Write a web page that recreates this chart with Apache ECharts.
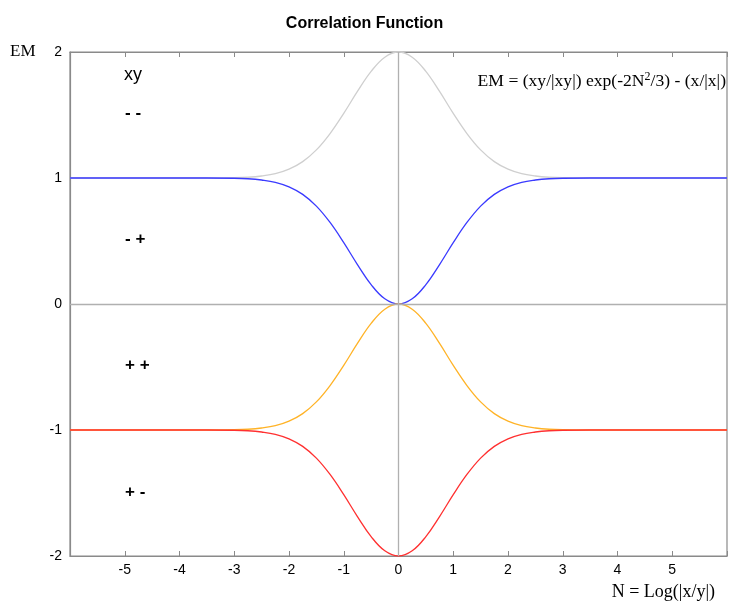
<!DOCTYPE html>
<html>
<head>
<meta charset="utf-8">
<script src="https://cdn.jsdelivr.net/npm/echarts@6/dist/echarts.min.js"></script>
<style>
html,body{margin:0;padding:0;background:#fff;}
#chart{width:729px;height:602px;}
</style>
</head>
<body>
<div id="chart"></div>
<script>
// N values (x axis)
const nValues = [-6,-5,-4,-3.5,-3,-2.75,-2.5,-2.25,-2,-1.75,-1.5,-1.25,-1,-0.75,-0.5,-0.25,0,0.25,0.5,0.75,1,1.25,1.5,1.75,2,2.25,2.5,2.75,3,3.5,4,5,6];
// xy = - -  (gray)
const grayValues = [1,1,1,1,1.002,1.006,1.016,1.034,1.07,1.13,1.223,1.353,1.513,1.687,1.846,1.959,2,1.959,1.846,1.687,1.513,1.353,1.223,1.13,1.07,1.034,1.016,1.006,1.002,1,1,1,1];
// xy = - +  (blue)
const blueValues = [1,1,1,1,0.998,0.994,0.984,0.966,0.93,0.87,0.777,0.647,0.487,0.313,0.154,0.041,0,0.041,0.154,0.313,0.487,0.647,0.777,0.87,0.93,0.966,0.984,0.994,0.998,1,1,1,1];
// xy = + +  (orange)
const orangeValues = [-1,-1,-1,-1,-0.998,-0.994,-0.984,-0.966,-0.93,-0.87,-0.777,-0.647,-0.487,-0.313,-0.154,-0.041,0,-0.041,-0.154,-0.313,-0.487,-0.647,-0.777,-0.87,-0.93,-0.966,-0.984,-0.994,-0.998,-1,-1,-1,-1];
// xy = + -  (red)
const redValues = [-1,-1,-1,-1,-1.002,-1.006,-1.016,-1.034,-1.07,-1.13,-1.223,-1.353,-1.513,-1.687,-1.846,-1.959,-2,-1.959,-1.846,-1.687,-1.513,-1.353,-1.223,-1.13,-1.07,-1.034,-1.016,-1.006,-1.002,-1,-1,-1,-1];
const xTickLabels = ['-5','-4','-3','-2','-1','0','1','2','3','4','5'];
const yTickLabels = ['-2','-1','0','1','2'];
const quadrantLabels = ['xy','- -','- +','+ +','+ -'];

const pair = arr => nValues.map((n,i)=>[n,arr[i]]);
const chart = echarts.init(document.getElementById('chart'), null, {renderer:'canvas'});
const axisColor = '#8a8a8a';
const mkSeries = (name, arr, color) => ({
  name, type:'line', data:pair(arr), showSymbol:false, smooth:0.4,
  lineStyle:{color, width:1.3}, itemStyle:{color}, silent:true, z:3
});
const sans = 'Liberation Sans, Arial, sans-serif';
const serif = 'Liberation Serif, Times New Roman, serif';

chart.setOption({
  animation:false,
  backgroundColor:'#fff',
  title:{text:'Correlation Function', left:'center', top:11,
    textStyle:{fontFamily:sans, fontSize:16, fontWeight:'bold', color:'#000'}},
  grid:{left:70, right:2, top:52, bottom:46, show:true, borderColor:axisColor, borderWidth:1.2,
    containLabel:false, outerBoundsMode:'none'},
  xAxis:[{
    type:'value', min:-6, max:6, interval:1, position:'bottom',
    axisLine:{show:true, onZero:false, lineStyle:{color:axisColor, width:1.2}},
    axisTick:{show:true, inside:true, length:5, lineStyle:{color:axisColor}},
    splitLine:{show:false},
    axisLabel:{color:'#000', fontFamily:sans, fontSize:14, margin:7,
      formatter:v => xTickLabels.includes(String(v)) ? String(v) : ''}
  },{
    type:'value', min:-6, max:6, interval:1, position:'top',
    axisLine:{show:true, onZero:false, lineStyle:{color:axisColor, width:1.2}},
    axisTick:{show:true, inside:true, length:5, lineStyle:{color:axisColor}},
    splitLine:{show:false}, axisLabel:{show:false}
  }],
  yAxis:[{
    type:'value', min:-2, max:2, interval:1,
    axisLine:{show:true, onZero:false, lineStyle:{color:axisColor, width:1.2}},
    axisTick:{show:false}, splitLine:{show:false},
    axisLabel:{color:'#000', fontFamily:sans, fontSize:14, margin:8,
      formatter:v => yTickLabels.includes(String(v)) ? String(v) : ''}
  }],
  graphic:[
    {type:'text', left:10, top:43, style:{text:'EM', font:'17px '+serif, fill:'#000'}},
    {type:'text', right:14, top:583, style:{text:'N = Log(|x/y|)', font:'18px '+serif, fill:'#000'}},
    {type:'text', left:124, top:66, style:{text:quadrantLabels[0], font:'18px '+sans, fill:'#000'}},
    {type:'text', left:125, top:105, style:{text:quadrantLabels[1], font:'bold 17px '+sans, fill:'#000'}},
    {type:'text', left:125, top:231, style:{text:quadrantLabels[2], font:'bold 17px '+sans, fill:'#000'}},
    {type:'text', left:125, top:357, style:{text:quadrantLabels[3], font:'bold 17px '+sans, fill:'#000'}},
    {type:'text', left:125, top:484, style:{text:quadrantLabels[4], font:'bold 17px '+sans, fill:'#000'}},
    {type:'text', right:3, top:71, style:{
      text:'{a|EM = (xy/|xy|) exp(-2N}{s|2}{a|/3) - (x/|x|)}',
      rich:{a:{fontFamily:serif, fontSize:17.6, fill:'#000', color:'#000'},
            s:{fontFamily:serif, fontSize:12, fill:'#000', color:'#000', verticalAlign:'top', padding:[0,0,9,0]}}
    }}
  ],
  series:[
    {type:'line', data:[], silent:true, z:1,
      markLine:{silent:true, symbol:'none', label:{show:false},
        lineStyle:{color:'#b0b0b0', width:1.3, type:'solid'},
        data:[{xAxis:0},{yAxis:0}]}},
    mkSeries('gray', grayValues, '#cfcfcf'),
    mkSeries('blue', blueValues, '#3a3aff'),
    mkSeries('orange', orangeValues, '#ffb327'),
    mkSeries('red', redValues, '#ff3030')
  ]
});
</script>
</body>
</html>
